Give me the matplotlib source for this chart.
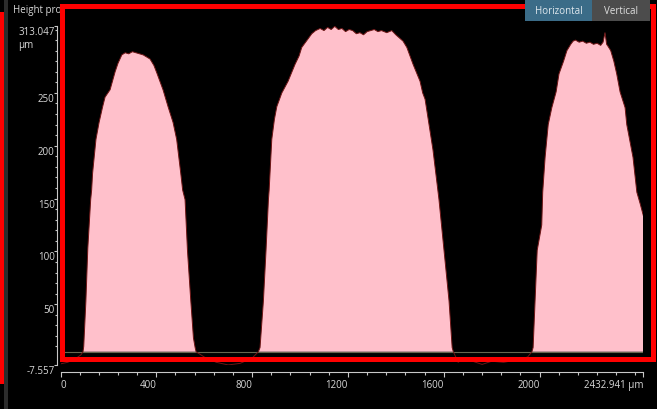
import matplotlib
matplotlib.use("Agg")
import matplotlib.pyplot as plt
from matplotlib.patches import Rectangle
from matplotlib.ticker import FixedLocator, FixedFormatter
from matplotlib.transforms import Bbox, TransformedBbox

# Height profile along the scan line (µm)
position_um = [0, 30, 60, 85, 94,
               97, 100, 106, 114, 126, 130, 134, 148, 161, 176, 186, 207, 228, 240, 256, 270,
               285, 300, 315, 330, 345, 360, 367, 374, 390, 402, 428, 449, 470, 485, 502, 510,
               520, 530, 544, 555, 562, 566,
               600, 650, 700, 750, 800, 826,
               833, 847, 858, 868, 871, 882, 893, 903, 924, 950, 979, 996, 1007, 1033, 1049,
               1065, 1084, 1100, 1115, 1130, 1145, 1160, 1175, 1190, 1205, 1220, 1235, 1250,
               1265, 1280, 1295, 1310, 1325, 1340, 1362, 1383, 1400, 1430, 1446, 1472, 1501,
               1512, 1522, 1555, 1580, 1601, 1622, 1635, 1640,
               1660, 1680, 1720, 1760, 1800, 1850, 1900, 1950, 1968,
               1973, 1981, 1990, 2009, 2013, 2023, 2036, 2051, 2069, 2081, 2100, 2114, 2130,
               2140, 2150, 2165, 2180, 2195, 2210, 2225, 2240, 2255, 2265, 2273, 2280, 2286,
               2297, 2310, 2322, 2336, 2357, 2364, 2390, 2406, 2420, 2432.941]
height_um = [-6.5, -5, -2, 2, 5,
             10, 25, 53, 103, 149, 158, 174, 206, 222, 237, 246, 253, 270, 278, 286, 288,
             287, 289, 288, 287, 286, 284, 283, 282, 276, 269, 253, 237, 222, 206, 174, 158,
             149, 101, 53, 18, 9, 5,
             0, -5, -7.5, -6, -1, 5,
             9, 53, 101, 149, 158, 206, 225, 237, 250, 261, 277, 285, 293, 301, 306,
             309, 311, 309, 312, 310, 313, 310, 311, 308, 310, 309, 306, 307,
             305, 308, 309, 310, 308, 309, 307, 309, 305, 299, 293, 277, 261,
             250, 244, 196, 149, 101, 53, 9, 5,
             -5, -2, -4, -7, -4, -5, -3, 0, 5,
             9, 53, 101, 125, 156, 189, 220, 236, 251, 268, 280, 290, 296,
             299, 300, 298, 299, 297, 298, 296, 297, 295, 298, 307, 296, 294,
             290, 280, 268, 251, 236, 220, 189, 156, 145, 134]

# level the filled area is measured from
reference_level_um = 5.0

x_min, x_max = 0.0, 2432.941
y_min, y_max = -7.557, 313.047
x_major = [0, 400, 800, 1200, 1600, 2000, 2432.941]
x_major_labels = ["0", "400", "800", "1200", "1600", "2000", "2432.941 µm"]
y_major = [-7.557, 50, 100, 150, 200, 250, 313.047]
y_major_labels = ["-7.557", "50", "100", "150", "200", "250", "313.047\nµm"]

W, H = 657, 410
plt.rcParams["font.family"] = ["Open Sans", "DejaVu Sans"]
fig = plt.figure(figsize=(W / 100, H / 100), dpi=100, facecolor="black")


def fx(px):
    return px / W


def fy(py):
    return 1 - py / H


ax = fig.add_axes([fx(60.5), fy(366), fx(643.3) - fx(60.5), fy(27.3) - fy(366)])
ax.set_facecolor("black")

ax.axhline(reference_level_um, color="#66664f", lw=0.8, zorder=1)
ax.fill_between(position_um, height_um, reference_level_um,
                where=[h > reference_level_um for h in height_um], interpolate=True,
                color="#ffc0cb", lw=0, zorder=2)
ax.plot(position_um, height_um, color="#6e1616", lw=0.7, zorder=3)

ax.set_xlim(x_min, x_max)
ax.set_ylim(y_min, y_max)

axis_grey = "#c8c8c8"
for s in ("top", "right"):
    ax.spines[s].set_visible(False)
ax.spines["left"].set_position(("outward", 2.5))
ax.spines["bottom"].set_position(("outward", 5.0))
for s in ("left", "bottom"):
    ax.spines[s].set_color(axis_grey)
    ax.spines[s].set_linewidth(0.8)

ax.xaxis.set_major_locator(FixedLocator(x_major))
ax.xaxis.set_major_formatter(FixedFormatter(x_major_labels))
ax.xaxis.set_minor_locator(FixedLocator([v * 80 for v in range(31)]))
ax.yaxis.set_major_locator(FixedLocator(y_major))
ax.yaxis.set_major_formatter(FixedFormatter(y_major_labels))
ax.yaxis.set_minor_locator(FixedLocator([v * 10 for v in range(1, 32)]))

ax.tick_params(axis="x", which="major", direction="out", length=3.4, width=0.8,
               color=axis_grey, labelcolor="#d8d8d8", labelsize=7, pad=1.6)
ax.tick_params(axis="x", which="minor", direction="out", length=2, width=0.8,
               color=axis_grey)
ax.tick_params(axis="y", which="major", direction="out", length=2.4, width=0.8,
               color=axis_grey, labelcolor="#d8d8d8", labelsize=7, pad=-0.8)
ax.tick_params(axis="y", which="minor", direction="out", length=1.5, width=0.8,
               color=axis_grey)

fig.canvas.draw()
for i, lab in enumerate(ax.get_xticklabels()):
    lab.set_ha("left" if i == 0 else "right")
for lab in ax.get_yticklabels():
    lab.set_va("top")
    lab.set_multialignment("left")

# panel chrome: splitter strip, title, view buttons
fig.add_artist(Rectangle((fx(4), 0), fx(8) - fx(4), 1, transform=fig.transFigure,
                         facecolor="#2c2c2c", edgecolor="none", zorder=5))
fig.add_artist(Rectangle((0, fy(385)), fx(3.5), fy(13) - fy(385), transform=fig.transFigure,
                         facecolor="#ff0000", edgecolor="none", zorder=6))
title = fig.text(fx(13), fy(10), "Height profile", color="#d8d8d8", fontsize=7,
                 va="center", ha="left", zorder=6)
title.set_clip_box(TransformedBbox(Bbox([[0, 0], [fx(61), 1]]), fig.transFigure))
title.set_clip_on(True)

# highlight frame around the plot area
fig.add_artist(Rectangle((fx(61.5), fy(360)), fx(652.5) - fx(61.5), fy(7) - fy(360),
                         transform=fig.transFigure, facecolor="none",
                         edgecolor="#ff0000", lw=3.6, zorder=7))

fig.add_artist(Rectangle((fx(525), fy(22)), fx(592) - fx(525), fy(0) - fy(22),
                         transform=fig.transFigure, facecolor="#3b6c88",
                         edgecolor="none", zorder=8))
fig.add_artist(Rectangle((fx(592), fy(22)), fx(650) - fx(592), fy(0) - fy(22),
                         transform=fig.transFigure, facecolor="#4c4c4c",
                         edgecolor="none", zorder=8))
fig.text(fx(558.5), fy(12), "Horizontal", color="#dfe8ee", fontsize=7,
         ha="center", va="center", zorder=9)
fig.text(fx(621), fy(12), "Vertical", color="#e0e0e0", fontsize=7,
         ha="center", va="center", zorder=9)

fig.savefig("out.png", dpi=100, facecolor="black")
